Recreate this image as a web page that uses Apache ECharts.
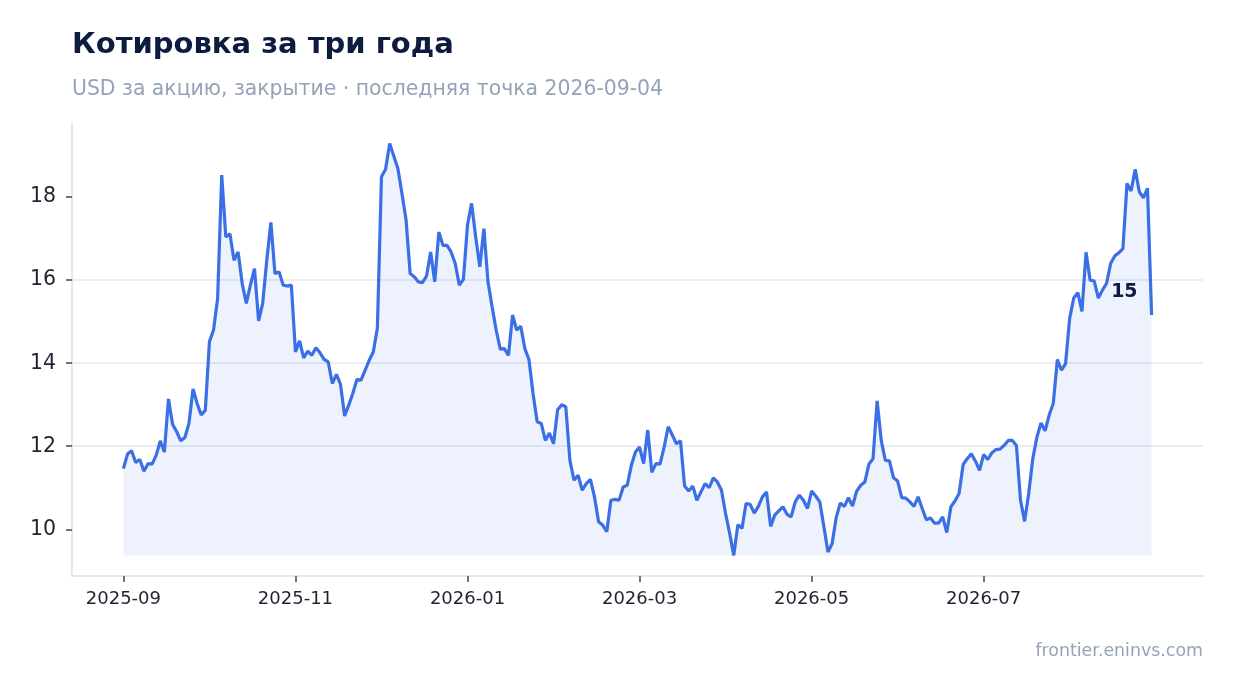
<!DOCTYPE html>
<html>
<head>
<meta charset="UTF-8" />
<title>Котировка за три года</title>
<script src="https://cdn.jsdelivr.net/npm/echarts@6.0.0/dist/echarts.min.js"></script>
<style>
  body { margin: 0; padding: 0; background: #fff; }
  #main { width: 1234px; height: 693px; }
</style>
</head>
<body>
<div id="main"></div>
<script type="text/javascript">
// closing prices, one per trading day, 2025-09 .. 2026-09-04
var prices = [
  11.46, 11.81, 11.89, 11.61, 11.68, 11.40, 11.58, 11.57, 11.78, 12.13,
  11.86, 13.14, 12.53, 12.35, 12.13, 12.21, 12.55, 13.38, 13.03, 12.75,
  12.87, 14.52, 14.80, 15.56, 18.53, 17.04, 17.12, 16.48, 16.68, 15.92,
  15.44, 15.88, 16.28, 15.02, 15.44, 16.48, 17.39, 16.16, 16.20, 15.88,
  15.86, 15.88, 14.27, 14.54, 14.13, 14.29, 14.19, 14.37, 14.25, 14.09,
  14.03, 13.51, 13.73, 13.49, 12.73, 12.99, 13.27, 13.61, 13.59, 13.83,
  14.07, 14.27, 14.85,
  18.49, 18.67, 19.29, 18.99, 18.69, 18.09, 17.45, 16.16, 16.08, 15.96,
  15.94, 16.10, 16.68, 15.96, 17.16, 16.84, 16.84, 16.68, 16.40, 15.88,
  16.02, 17.33, 17.85, 17.04, 16.32, 17.24, 15.96, 15.36, 14.80, 14.34,
  14.35, 14.19, 15.16, 14.80, 14.89, 14.35, 14.09, 13.27, 12.59, 12.55,
  12.14, 12.32, 12.06, 12.88, 13.00, 12.95, 11.66, 11.18, 11.30, 10.94,
  11.10, 11.20, 10.78, 10.18, 10.10, 9.94, 10.70, 10.72, 10.70, 11.02,
  11.06, 11.54, 11.86, 11.98,
  11.58, 12.39, 11.37, 11.58, 11.57, 11.98, 12.47, 12.27, 12.06, 12.13,
  11.04, 10.92, 11.04, 10.70, 10.90, 11.10, 11.00, 11.24, 11.14, 10.94,
  10.38, 9.90, 9.37, 10.11, 10.02, 10.62, 10.60, 10.39, 10.55, 10.78,
  10.90, 10.07, 10.34, 10.44, 10.54, 10.36, 10.30, 10.66, 10.82, 10.70,
  10.50, 10.92, 10.80, 10.66, 10.06, 9.45, 9.65, 10.28, 10.63, 10.55,
  10.76, 10.56, 10.92, 11.06, 11.14, 11.57, 11.70, 13.09, 12.14, 11.66,
  11.65, 11.24, 11.16,
  10.76, 10.75, 10.66, 10.55, 10.78, 10.50, 10.23, 10.27, 10.15, 10.15,
  10.30, 9.92, 10.54, 10.68, 10.86, 11.56, 11.70, 11.82, 11.64, 11.42,
  11.80, 11.68, 11.84, 11.92, 11.93, 12.02, 12.14, 12.14, 12.02, 10.70,
  10.19, 10.86, 11.70, 12.22, 12.56, 12.37, 12.75, 13.03, 14.09, 13.83,
  13.99, 15.08, 15.57, 15.70, 15.25, 16.67, 16.00, 15.98, 15.57, 15.76,
  15.92, 16.40, 16.58, 16.66, 16.76, 18.33, 18.15, 18.67, 18.13, 17.98,
  18.21, 15.16
];
var tickIndex = [0, 42, 84, 126, 168, 210];
var tickLabels = ['2025-09', '2025-11', '2026-01', '2026-03', '2026-05', '2026-07'];
var yTicks = [10, 12, 14, 16, 18];
var lastDate = '2026-09-04';

var font = 'DejaVu Sans';
var n = prices.length;
var pMin = Math.min.apply(null, prices);
var pMax = Math.max.apply(null, prices);
var yPad = (pMax - pMin) * 0.05;
var xPad = (n - 1) * 0.05;
var lastVal = prices[n - 1];

var seriesData = prices.map(function (v, i) { return [i, v]; });

var chart = echarts.init(document.getElementById('main'));
var option = {
  animation: false,
  backgroundColor: '#ffffff',
  textStyle: { fontFamily: font },
  title: {
    text: 'Котировка за три года',
    subtext: 'USD за акцию, закрытие · последняя точка ' + lastDate,
    left: 72,
    top: 29,
    padding: 0,
    itemGap: 17,
    textStyle: { fontFamily: font, fontSize: 29, fontWeight: 'bold', color: '#0c1b3e', lineHeight: 32 },
    subtextStyle: { fontFamily: font, fontSize: 20.4, color: '#94a3b8', lineHeight: 24 }
  },
  grid: { left: 72, right: 31, top: 123, bottom: 117, containLabel: false },
  xAxis: {
    type: 'value',
    min: -xPad,
    max: n - 1 + xPad,
    axisLine: { show: true, onZero: false, lineStyle: { color: '#e2e8f0', width: 2 } },
    axisTick: { show: true, customValues: tickIndex, length: 6, lineStyle: { color: '#3f4654', width: 1.5 } },
    axisLabel: {
      customValues: tickIndex,
      formatter: function (v) { return tickLabels[tickIndex.indexOf(v)]; },
      fontFamily: font, fontSize: 18, color: '#1f2430', margin: 14
    },
    splitLine: { show: false }
  },
  yAxis: {
    type: 'value',
    min: pMin - yPad,
    max: pMax + yPad,
    splitNumber: 5,
    axisLine: { show: true, onZero: false, lineStyle: { color: '#e2e8f0', width: 2 } },
    axisTick: { show: true, customValues: yTicks, length: 6, lineStyle: { color: '#3f4654', width: 1.5 } },
    axisLabel: { customValues: yTicks, fontFamily: font, fontSize: 20.5, color: '#1f2430', margin: 16 },
    splitLine: { show: true, showMinLine: false, showMaxLine: false, lineStyle: { color: '#e3e8ef', width: 1.5 } }
  },
  series: [{
    type: 'line',
    data: seriesData,
    showSymbol: false,
    silent: true,
    lineStyle: { color: '#3b6fe6', width: 3.2 },
    areaStyle: { color: '#3b6fe6', opacity: 0.09, origin: pMin },
    markPoint: {
      symbol: 'circle',
      symbolSize: 0,
      silent: true,
      data: [{ coord: [n - 1, lastVal], value: Math.round(lastVal) }],
      label: {
        show: true,
        position: 'left',
        distance: 14,
        offset: [0, -23],
        formatter: '{c}',
        fontFamily: font,
        fontSize: 19,
        fontWeight: 'bold',
        color: '#0c1b3e'
      }
    }
  }],
  graphic: [{
    type: 'text',
    right: 31,
    top: 643,
    style: { text: 'frontier.eninvs.com', fontFamily: font, fontSize: 17.4, fill: '#94a3b8' }
  }]
};
chart.setOption(option);
</script>
</body>
</html>
